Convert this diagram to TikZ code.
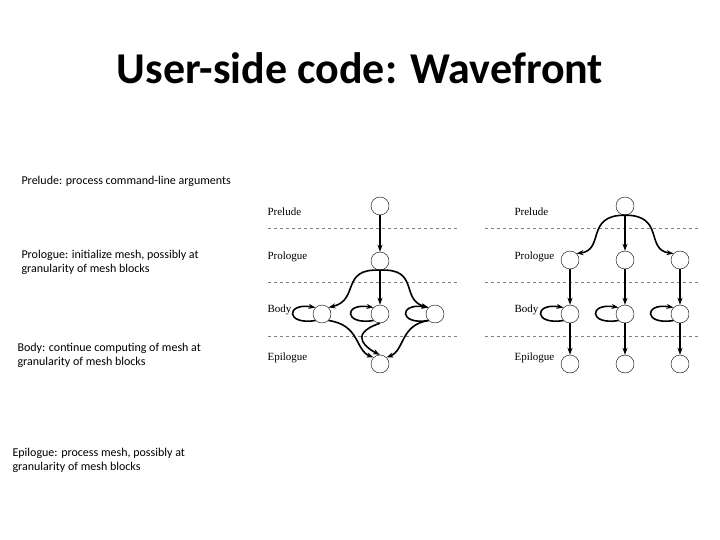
\documentclass[tikz,border=0pt]{standalone}
\usepackage{fontspec}
\setmainfont{Carlito}
\newfontfamily\tms{Liberation Serif}
\usetikzlibrary{arrows.meta}
\begin{document}
\begin{tikzpicture}[x=1pt,y=-1pt,
  nd/.style={circle,draw,minimum size=18pt,inner sep=0pt},
  ar/.style={-{Stealth[length=7pt,width=5pt]},line width=1.6pt},
  lbl/.style={anchor=west,font=\tms\fontsize{11}{12}\selectfont},
  side/.style={anchor=west,align=left,font=\fontsize{12}{14}\selectfont},
  sep/.style={dashed,gray,line width=0.6pt}]
\useasboundingbox (0,0) rectangle (720,540);
\node (title) at (360,68) {\fontsize{44}{48}\selectfont\bfseries User-side code: Wavefront};
\node[side] (t1) at (18,181) {Prelude: process command-line arguments};
\node[side] (t2) at (18,262) {Prologue: initialize mesh, possibly at\\granularity of mesh blocks};
\node[side] (t3) at (14,355) {Body: continue computing of mesh at\\granularity of mesh blocks};
\node[side] (t4) at (9,460) {Epilogue: process mesh, possibly at\\granularity of mesh blocks};
% separators
\foreach \y in {228,282,336}{
  \draw[sep] (268,\y) -- (460,\y);
  \draw[sep] (485,\y) -- (700,\y);}
% labels
\node[lbl] (lp1) at (264,212) {Prelude};
\node[lbl] (lg1) at (264,257) {Prologue};
\node[lbl] (lb1) at (264,310) {Body};
\node[lbl] (le1) at (264,358) {Epilogue};
\node[lbl] (lp2) at (511,212) {Prelude};
\node[lbl] (lg2) at (511,257) {Prologue};
\node[lbl] (lb2) at (511,310) {Body};
\node[lbl] (le2) at (511,358) {Epilogue};
% left graph
\node[nd] (p) at (380,206) {};
\node[nd] (g) at (380,261) {};
\node[nd] (b1) at (322,314) {};
\node[nd] (b2) at (380,314) {};
\node[nd] (b3) at (435,314) {};
\node[nd] (e) at (380,364) {};
\draw[ar] (p) -- (g);
\draw[ar] (g) -- (b2);
\draw[ar] (g.south) .. controls (340,268) and (360,300) .. (b1.north east);
\draw[ar] (g.south) .. controls (420,268) and (400,300) .. (b3.north west);
\foreach \b in {b1,b2,b3}
  \draw[ar] (\b.south west) .. controls +(-30,5) and +(-30,-5) .. (\b.north west);
\draw[ar] (b1.south east) .. controls (360,325) and (355,350) .. (e.north west);
\draw[ar] (b3.south west) .. controls (400,325) and (405,350) .. (e.north east);
\draw[ar] (b2.south) .. controls (345,335) and (370,350) .. (e.north);
% right graph
\node[nd] (q) at (625,206) {};
\foreach \i/\x in {1/570,2/625,3/680}{
  \node[nd] (r\i) at (\x,260) {};
  \node[nd] (c\i) at (\x,314) {};
  \node[nd] (f\i) at (\x,364) {};
  \draw[ar] (r\i) -- (c\i);
  \draw[ar] (c\i) -- (f\i);
  \draw[ar] (c\i.south west) .. controls +(-30,5) and +(-30,-5) .. (c\i.north west);}
\draw[ar] (q) -- (r2);
\draw[ar] (q.south) .. controls (585,215) and (605,250) .. (r1.north east);
\draw[ar] (q.south) .. controls (665,215) and (645,250) .. (r3.north west);
\end{tikzpicture}
\end{document}
